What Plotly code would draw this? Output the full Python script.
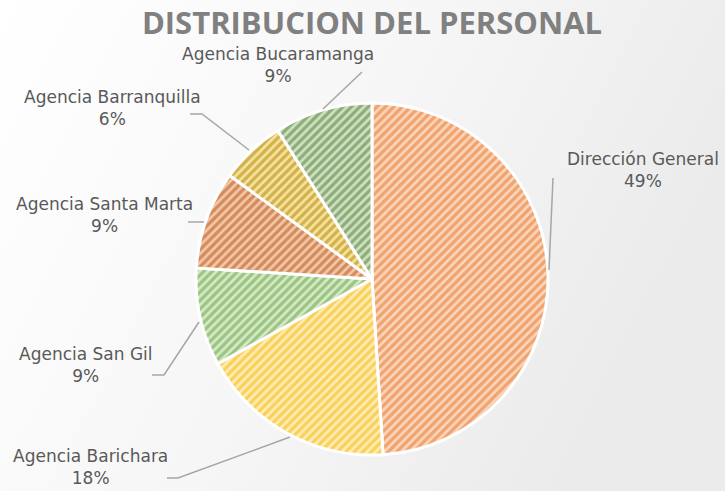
import base64
import plotly.graph_objects as go

# ---- data ----
labels = ["Dirección General", "Agencia Barichara", "Agencia San Gil",
          "Agencia Santa Marta", "Agencia Barranquilla", "Agencia Bucaramanga"]
values = [49, 18, 9, 9, 6, 9]
title_text = "DISTRIBUCION DEL PERSONAL"

# ---- styles ----
fg_colors = ["#E8701F", "#F5B400", "#5FA036", "#B54E0C", "#A88000", "#4A7A2C"]
bg_colors = ["#FAD6BC", "#FFEDB5", "#D6EACA", "#F2C8AA", "#F8E39C", "#D0E1C4"]

W, H = 725, 491
cx, cy, R = 372, 279, 176


def px(x):
    return x / W


def py(y):
    return 1 - y / H


fig = go.Figure()
fig.add_trace(go.Pie(
    labels=labels,
    values=values,
    sort=False,
    direction="clockwise",
    rotation=0,
    textinfo="none",
    hoverinfo="label+percent",
    showlegend=False,
    marker=dict(
        colors=bg_colors,
        line=dict(color="white", width=3),
        pattern=dict(shape="/", fgcolor=fg_colors, bgcolor=bg_colors,
                     size=6, solidity=0.55, fillmode="overlay"),
    ),
    domain=dict(x=[px(cx - R), px(cx + R)], y=[py(cy + R), py(cy - R)]),
))

# label placements (layout only)
label_pos = [(643, 170), (90, 467), (86, 365), (104, 215), (112, 108), (278, 65)]
total = sum(values)
for lab, v, (lx, ly) in zip(labels, values, label_pos):
    fig.add_annotation(
        x=px(lx), y=py(ly), xref="paper", yref="paper",
        text=f"{lab}<br>{round(100 * v / total)}%",
        showarrow=False, xanchor="center", yanchor="middle",
        font=dict(family="DejaVu Sans", size=17, color="#595959"),
        align="center",
    )

# leader lines (decoration)
leaders = [
    [(553, 178), (549, 270)],
    [(167, 478), (178, 478), (290, 437)],
    [(152, 375), (164, 375), (199, 322)],
    [(188, 222), (204, 222)],
    [(190, 114), (202, 114), (249, 150)],
    [(362, 72), (323, 109)],
]
for pts in leaders:
    path = "M " + " L ".join(f"{px(x):.5f},{py(y):.5f}" for x, y in pts)
    fig.add_shape(type="path", path=path, xref="paper", yref="paper",
                  line=dict(color="#A6A6A6", width=1.5))

svg = ('<svg xmlns="http://www.w3.org/2000/svg" width="725" height="491" preserveAspectRatio="none">'
       '<defs><linearGradient id="g" x1="0" y1="0" x2="1" y2="0.35">'
       '<stop offset="0" stop-color="#ffffff"/><stop offset="0.55" stop-color="#f6f6f6"/>'
       '<stop offset="1" stop-color="#ebebeb"/></linearGradient></defs>'
       '<rect width="725" height="491" fill="url(#g)"/></svg>')
uri = "data:image/svg+xml;base64," + base64.b64encode(svg.encode()).decode()

fig.update_layout(
    width=W, height=H,
    margin=dict(l=0, r=0, t=0, b=0),
    paper_bgcolor="#f7f7f7",
    plot_bgcolor="rgba(0,0,0,0)",
    title=dict(text=f"<b>{title_text}</b>", x=px(372), xanchor="center",
               y=py(23), yanchor="middle",
               font=dict(family="Open Sans", size=31, color="#808080")),
    images=[dict(source=uri, xref="paper", yref="paper", x=0, y=1,
                 sizex=1, sizey=1, sizing="stretch", layer="below")],
)

fig.write_html("out.html", config={"displayModeBar": False},
               post_script="document.body.style.margin='0';document.body.style.overflow='hidden';")
